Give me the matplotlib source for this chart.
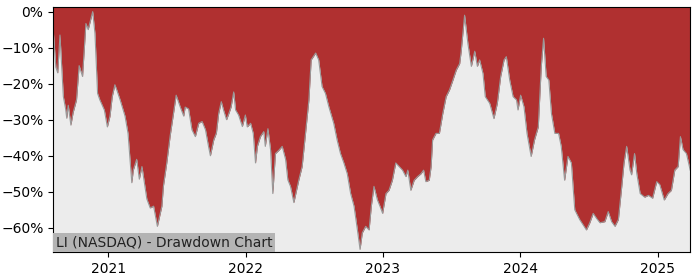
import matplotlib
matplotlib.use('Agg')
import matplotlib.pyplot as plt
import matplotlib.dates as mdates
from matplotlib.ticker import PercentFormatter
import pandas as pd

# drawdown of LI (in %)
dates = ['2020-08-07', '2020-08-14', '2020-08-19', '2020-08-25', '2020-09-03', '2020-09-09',
         '2020-09-12', '2020-09-16', '2020-09-23', '2020-09-29', '2020-10-08', '2020-10-15',
         '2020-10-24', '2020-11-02', '2020-11-08', '2020-11-20', '2020-11-26', '2020-12-03',
         '2020-12-09', '2020-12-21', '2020-12-29', '2021-01-05', '2021-01-11', '2021-01-18',
         '2021-01-23', '2021-02-01', '2021-02-14', '2021-02-22', '2021-03-04', '2021-03-08',
         '2021-03-17', '2021-03-24', '2021-03-31', '2021-04-13', '2021-04-22', '2021-05-01',
         '2021-05-11', '2021-05-23', '2021-05-27', '2021-06-05', '2021-06-14', '2021-06-23',
         '2021-06-30', '2021-07-11', '2021-07-20', '2021-07-24', '2021-08-02', '2021-08-11',
         '2021-08-20', '2021-08-29', '2021-09-07', '2021-09-16', '2021-09-24', '2021-09-29',
         '2021-10-08', '2021-10-15', '2021-10-21', '2021-10-28', '2021-11-03', '2021-11-11',
         '2021-11-17', '2021-11-23', '2021-11-30', '2021-12-05', '2021-12-13', '2021-12-23',
         '2021-12-31', '2022-01-05', '2022-01-14', '2022-01-21', '2022-01-27', '2022-02-01',
         '2022-02-09', '2022-02-18', '2022-02-22', '2022-03-01', '2022-03-08', '2022-03-14',
         '2022-03-21', '2022-03-30', '2022-04-08', '2022-04-17', '2022-04-23', '2022-04-30',
         '2022-05-09', '2022-05-22', '2022-05-31', '2022-06-09', '2022-06-18', '2022-06-24',
         '2022-07-06', '2022-07-14', '2022-07-23', '2022-08-01', '2022-08-10', '2022-08-23',
         '2022-09-01', '2022-09-10', '2022-09-19', '2022-09-28', '2022-10-07', '2022-10-16',
         '2022-10-25', '2022-11-01', '2022-11-07', '2022-11-16', '2022-11-25', '2022-12-01',
         '2022-12-08', '2022-12-17', '2022-12-24', '2022-12-31', '2023-01-09', '2023-01-17',
         '2023-01-26', '2023-02-04', '2023-02-13', '2023-02-22', '2023-03-03', '2023-03-08',
         '2023-03-16', '2023-03-25', '2023-04-03', '2023-04-12', '2023-04-19', '2023-04-25',
         '2023-05-04', '2023-05-09', '2023-05-13', '2023-05-22', '2023-05-31', '2023-06-09',
         '2023-06-18', '2023-06-27', '2023-07-06', '2023-07-15', '2023-07-24', '2023-07-28',
         '2023-08-06', '2023-08-15', '2023-08-24', '2023-09-02', '2023-09-09', '2023-09-15',
         '2023-09-24', '2023-09-30', '2023-10-12', '2023-10-23', '2023-11-01', '2023-11-10',
         '2023-11-19', '2023-11-25', '2023-12-04', '2023-12-13', '2023-12-22', '2023-12-26',
         '2024-01-02', '2024-01-11', '2024-01-19', '2024-01-30', '2024-02-08', '2024-02-18',
         '2024-02-26', '2024-03-03', '2024-03-10', '2024-03-17', '2024-03-24', '2024-04-02',
         '2024-04-12', '2024-04-19', '2024-04-28', '2024-05-07', '2024-05-16', '2024-05-25',
         '2024-06-07', '2024-06-25', '2024-07-04', '2024-07-13', '2024-07-22', '2024-07-31',
         '2024-08-13', '2024-08-22', '2024-08-31', '2024-09-09', '2024-09-18', '2024-09-27',
         '2024-10-03', '2024-10-10', '2024-10-19', '2024-10-23', '2024-10-31', '2024-11-06',
         '2024-11-15', '2024-11-27', '2024-12-07', '2024-12-18', '2024-12-29', '2025-01-06',
         '2025-01-18', '2025-01-28', '2025-02-06', '2025-02-15', '2025-02-24', '2025-03-02',
         '2025-03-09', '2025-03-18', '2025-03-28']
drawdown = [-5, -15.4, -17, -6.5, -23.6, -27,
            -29.6, -26, -31.5, -28, -24.5, -15,
            -18, -3.3, -5, 0, -6, -22.7,
            -24.5, -27.3, -32, -29, -23.6, -20.3,
            -21.7, -24.5, -29, -33.8, -47.5, -44,
            -41, -46.5, -43, -52, -54.5, -54,
            -59.6, -54, -48.5, -42, -34.5, -28.2,
            -23.2, -26.5, -29, -26.5, -27, -32.8,
            -34.7, -31, -30.5, -32.8, -37.4, -40,
            -35.6, -33.7, -28.3, -25, -27.3, -30,
            -28.3, -26.5, -22.3, -27.3, -28.7, -31.9,
            -28.7, -32, -31, -33.8, -42, -37.4,
            -34.7, -33.3, -37.4, -32.5, -38.3, -50.5,
            -39.4, -38.5, -37.4, -41, -46.7, -48.5,
            -53, -46.8, -43, -33.8, -24.5, -13.4,
            -11.5, -13.4, -20.8, -22.7, -26.4, -31,
            -35.6, -39.4, -42, -45, -50.5, -54,
            -60.6, -66, -61.4, -59.6, -60.6, -54,
            -48.5, -52.2, -54, -56, -50.5, -49.6,
            -46.8, -42, -43, -44, -45.8, -44,
            -49.6, -46.8, -45.8, -45, -44, -47.2,
            -46.8, -43, -35.6, -33.8, -33.8, -28.3,
            -23.6, -21.7, -19, -16.2, -14.4, -11,
            -1, -9, -15.2, -11, -15.2, -13.4,
            -17.2, -23.6, -25.5, -29.7, -25.5, -18,
            -13.4, -12.5, -19, -23.6, -24.5, -27.3,
            -23.2, -26.4, -33.8, -40.2, -35.6, -32,
            -15.2, -7.4, -18, -19, -28.3, -33.8,
            -33.8, -37.4, -46.8, -40.2, -42, -55,
            -57.7, -60.6, -58.6, -56, -57.4, -58.6,
            -58.3, -55.5, -58.3, -59.6, -57.7, -48.5,
            -42, -37.4, -44, -45.3, -39.4, -45,
            -50.5, -51.5, -51, -51.8, -47.2, -48,
            -52.3, -50.5, -49.6, -44, -43, -34.7,
            -38.3, -39.4, -44]

x = pd.to_datetime(dates)
y = [v / 100 for v in drawdown]

fig = plt.figure(figsize=(7, 2.8), dpi=100)
ax = fig.add_axes([0.076, 0.099, 0.91, 0.875])
ax.set_facecolor('#ececec')

ax.fill_between(x, y, 0.05, color='#b03030', lw=0)
ax.plot(x, y, color='#999999', lw=0.8)

ax.set_xlim(x[0], x[-1])
ax.set_ylim(-0.668, 0.012)
ax.set_yticks([0, -0.1, -0.2, -0.3, -0.4, -0.5, -0.6])
ax.yaxis.set_major_formatter(PercentFormatter(1.0, decimals=0))
ax.xaxis.set_major_locator(mdates.YearLocator())
ax.xaxis.set_major_formatter(mdates.DateFormatter('%Y'))

ax.text(0.004, 0.012, 'LI (NASDAQ) - Drawdown Chart', transform=ax.transAxes,
        fontsize=10, color='#222222', ha='left', va='bottom',
        bbox=dict(facecolor='#b4b4b4', edgecolor='none', pad=2))

fig.savefig('out.png')
